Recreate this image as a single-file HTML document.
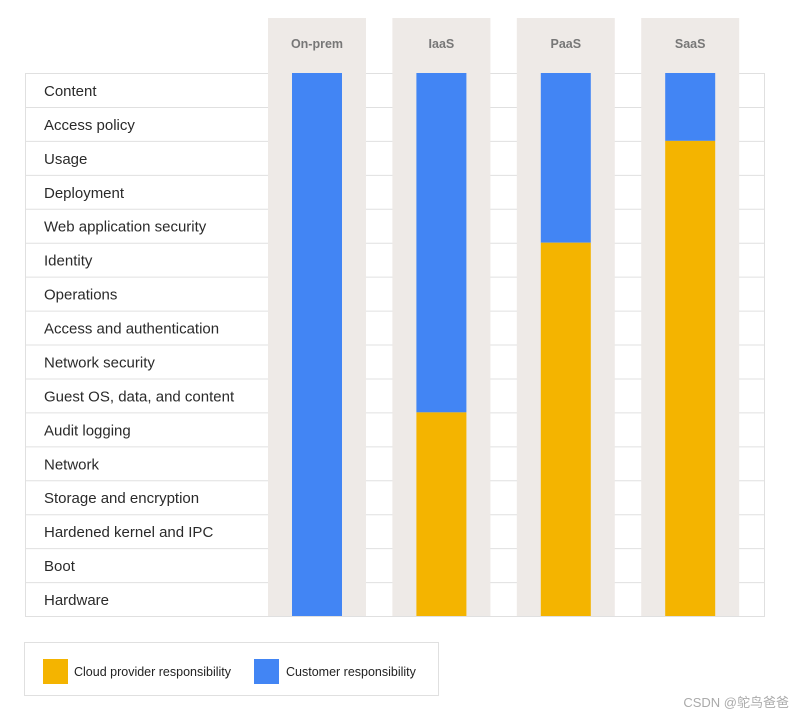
<!DOCTYPE html>
<html><head><meta charset="utf-8"><style>
body{margin:0;background:#fff;width:796px;height:716px;overflow:hidden;font-family:"Liberation Sans","Noto Sans CJK SC",sans-serif}
</style></head><body>
<svg id="chart" width="796" height="716" xmlns="http://www.w3.org/2000/svg"></svg>
<script>
const rows=["Content","Access policy","Usage","Deployment","Web application security","Identity","Operations","Access and authentication","Network security","Guest OS, data, and content","Audit logging","Network","Storage and encryption","Hardened kernel and IPC","Boot","Hardware"];
const models=["On-prem","IaaS","PaaS","SaaS"];
const customerRows=[16,10,5,2];
const svg=document.getElementById('chart');
const NS="http://www.w3.org/2000/svg";
function mk(t,a,txt){const e=document.createElementNS(NS,t);for(const k in a)e.setAttribute(k,a[k]);if(txt!==undefined)e.textContent=txt;svg.appendChild(e);return e;}
const top0=73,bot=616,rh=(bot-top0)/rows.length,left=25,right=764;
const colX=i=>268+i*124.4;
const rowY=i=>top0+i*rh;
let e=mk('rect',{x:left+.5,y:top0+.5,width:right-left,height:bot-top0,fill:'none',stroke:'#e0e0e0'});

for(let i=1;i<rows.length;i++){e=mk('line',{x1:left,x2:right,y1:rowY(i)+.5,y2:rowY(i)+.5,stroke:'#e0e0e0'});
}
rows.forEach((r,i)=>{e=mk('text',{x:44,y:rowY(i)+rh/2+6,'font-size':15,fill:'#2a2a2a'},r);
});
models.forEach((m,i)=>{
 const x=colX(i);
 e=mk('rect',{x:x,y:18,width:98,height:bot-18,fill:'#eeeae7'});
 
 e=mk('text',{x:x+49,y:48,'font-size':12.5,'font-weight':'bold',fill:'#777','text-anchor':'middle'},m);
 
 const c=customerRows[i],split=rowY(c);
 e=mk('rect',{x:x+24,y:top0,width:50,height:split-top0,fill:'#4285f4'});
 
 if(c<rows.length){e=mk('rect',{x:x+24,y:split,width:50,height:bot-split,fill:'#f4b400'});
 }
});
e=mk('rect',{x:24.5,y:642.5,width:414,height:53,fill:'#fff',stroke:'#e0e0e0'});

e=mk('rect',{x:43,y:659,width:25,height:25,fill:'#f4b400'});

e=mk('text',{x:74,y:676,'font-size':12.5,fill:'#222'},'Cloud provider responsibility');

e=mk('rect',{x:254,y:659,width:25,height:25,fill:'#4285f4'});

e=mk('text',{x:286,y:676,'font-size':12.5,fill:'#222'},'Customer responsibility');

e=mk('text',{x:789,y:707,'font-size':13,fill:'#aaa','text-anchor':'end'},'CSDN @鸵鸟爸爸');

</script>
</body></html>
